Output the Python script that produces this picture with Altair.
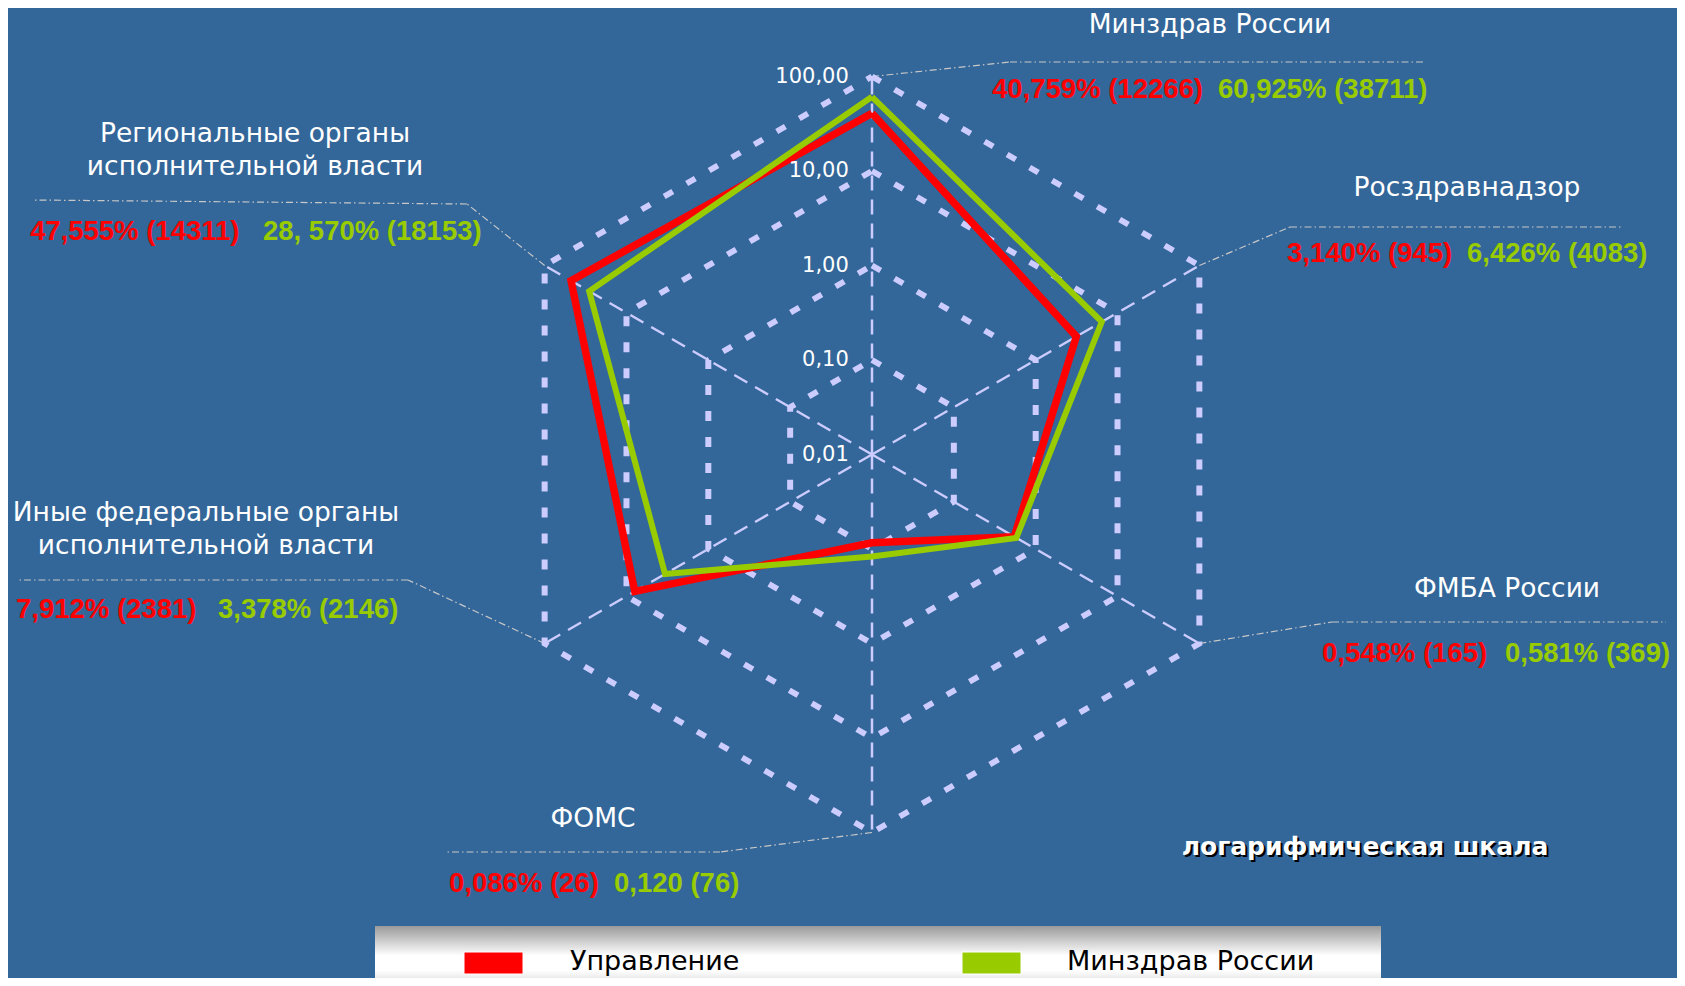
import altair as alt
import pandas as pd
import math

# ---------------- data ----------------
categories = ["Минздрав России", "Росздравнадзор", "ФМБА России", "ФОМС",
              "Иные федеральные органы\nисполнительной власти",
              "Региональные органы\nисполнительной власти"]
series_names = ["Управление", "Минздрав России"]
upr_pct = [40.759, 3.140, 0.548, 0.086, 7.912, 47.555]
mz_pct = [60.925, 6.426, 0.581, 0.120, 3.378, 28.570]
upr_labels = ["40,759% (12266)", "3,140% (945)", "0,548% (165)",
              "0,086% (26)", "7,912% (2381)", "47,555% (14311)"]
mz_labels = ["60,925% (38711)", "6,426% (4083)", "0,581% (369)",
             "0,120 (76)", "3,378% (2146)", "28, 570% (18153)"]
tick_values = [0.01, 0.1, 1, 10, 100]
tick_labels = ["0,01", "0,10", "1,00", "10,00", "100,00"]
scale_note = "логарифмическая шкала"
colors = ["#ff0000", "#99cc00"]

# ---------------- layout (page pixels) ----------------
W, H = 1669, 970
CX, CY, DEC = 872.0, 454.5, 94.5
BG = "#336699"
GRID = "#ccccff"


def ux(px):
    return (px - CX) / DEC


def uy(py):
    return (CY - py) / DEC


xdom = [ux(8), ux(8 + W)]
ydom = [uy(8 + H), uy(8)]
XS = alt.Scale(domain=xdom, nice=False, zero=False)
YS = alt.Scale(domain=ydom, nice=False, zero=False)


def X(f):
    return alt.X(f, type="quantitative", scale=XS, axis=None)


def Y(f):
    return alt.Y(f, type="quantitative", scale=YS, axis=None)


def radar(chart):
    return chart.transform_calculate(
        r="log(datum.value)/LN10 + 2",
        ang="(90 - 60*(datum.idx % 6))*PI/180",
    ).transform_calculate(
        x="datum.r*cos(datum.ang)",
        y="datum.r*sin(datum.ang)",
    )


# grid hexagons
grid_rows = []
for lv in tick_values[1:]:
    for i in range(7):
        grid_rows.append({"level": lv, "idx": i, "value": lv})
grid_df = pd.DataFrame(grid_rows)
grid = radar(alt.Chart(grid_df).mark_line(
    color=GRID, strokeWidth=6, strokeDash=[10, 16], strokeCap="butt"
)).encode(x=X("x"), y=Y("y"), detail="level:N", order="idx:Q")

# spokes
spoke_df = pd.DataFrame({"idx": list(range(6)), "value": [tick_values[-1]] * 6})
spokes = radar(alt.Chart(spoke_df).mark_rule(
    color=GRID, strokeWidth=2.5, strokeDash=[15, 9]
)).transform_calculate(zx="0", zy="0").encode(
    x=X("zx"), y=Y("zy"), x2="x:Q", y2="y:Q")

# tick labels
tick_df = pd.DataFrame({"value": tick_values, "label": tick_labels})
ticks = alt.Chart(tick_df).mark_text(
    align="right", baseline="middle", font="DejaVu Sans", fontSize=21, color="#ffffff"
).transform_calculate(
    r="log(datum.value)/LN10 + 2",
    tx="-0.245",
    ty="datum.r - 0.005",
).encode(x=X("tx"), y=Y("ty"), text="label:N")

# leader lines (vertex -> knee -> end), knee/end in page px
knees = [(1010, 62), (1290, 227), (1332, 622), (720, 852), (408, 580), (467, 204)]
ends = [(1424, 62), (1623, 227), (1666, 622), (446, 852), (19, 580), (32, 200)]
lead_rows = []
for i in range(6):
    a = math.radians(90 - 60 * i)
    vx, vy = 4 * math.cos(a), 4 * math.sin(a)
    kx, ky = ux(knees[i][0]), uy(knees[i][1])
    ex, ey = ux(ends[i][0]), uy(ends[i][1])
    lead_rows.append({"x": vx, "y": vy, "x2": kx, "y2": ky})
    lead_rows.append({"x": kx, "y": ky, "x2": ex, "y2": ey})
lead_df = pd.DataFrame(lead_rows)
leaders = alt.Chart(lead_df).mark_rule(
    color="#c8c8c8", strokeWidth=1.2, strokeDash=[7, 3, 1.5, 3]
).encode(x=X("x"), y=Y("y"), x2="x2:Q", y2="y2:Q")


# series lines
def series_layer(vals, name, color, width):
    df = pd.DataFrame({"idx": list(range(7)),
                       "value": vals + [vals[0]],
                       "series": [name] * 7})
    return radar(alt.Chart(df).mark_line(
        color=color, strokeWidth=width, strokeJoin="miter", strokeMiterLimit=10
    )).encode(x=X("x"), y=Y("y"), order="idx:Q")


line_upr = series_layer(upr_pct, series_names[0], colors[0], 7.5)
line_mz = series_layer(mz_pct, series_names[1], colors[1], 6)

# category labels (y = centre of first line)
cat_pos = [(1210, 25), (1467, 188), (1507, 589), (593, 819), (206, 513), (255, 134)]
cat_df = pd.DataFrame({"label": categories,
                       "x": [ux(p[0]) for p in cat_pos],
                       "y": [uy(p[1]) for p in cat_pos]})
cat_text = alt.Chart(cat_df).mark_text(
    align="center", baseline="middle", font="DejaVu Sans", fontSize=26.5,
    color="#ffffff", lineBreak="\n", lineHeight=33
).encode(x=X("x"), y=Y("y"), text="label:N")

# value labels
val_y = [90, 254, 654, 884, 610, 232]
red_x = [992, 1287, 1322, 449, 16, 30]
green_x = [1218, 1467, 1505, 614, 218, 263]
val_df = pd.DataFrame({
    "label": upr_labels + mz_labels,
    "series": [series_names[0]] * 6 + [series_names[1]] * 6,
    "x": [ux(v) for v in red_x + green_x],
    "y": [uy(v) for v in val_y + val_y],
})
val_text = alt.Chart(val_df).mark_text(
    align="left", baseline="middle", font="Liberation Sans", fontSize=27.5,
    fontWeight="bold"
).encode(
    x=X("x"), y=Y("y"), text="label:N",
    color=alt.Color("series:N", scale=alt.Scale(domain=series_names, range=colors),
                    legend=None),
)

# log scale note (with shadow)
note_df = pd.DataFrame({"label": [scale_note], "x": [ux(1365)], "y": [uy(847)]})
note_shadow = alt.Chart(note_df).mark_text(
    align="center", baseline="middle", font="DejaVu Sans", fontSize=25,
    fontWeight="bold", color="#000000", dx=2, dy=2
).encode(x=X("x"), y=Y("y"), text="label:N")
note = alt.Chart(note_df).mark_text(
    align="center", baseline="middle", font="DejaVu Sans", fontSize=25,
    fontWeight="bold", color="#ffffff"
).encode(x=X("x"), y=Y("y"), text="label:N")

# legend box
grad = alt.LinearGradient(
    gradient="linear",
    stops=[alt.GradientStop(color="#9a9a9a", offset=0),
           alt.GradientStop(color="#ffffff", offset=0.4),
           alt.GradientStop(color="#ffffff", offset=0.6),
           alt.GradientStop(color="#b4b4b4", offset=1)],
    x1=0, x2=0, y1=0, y2=1,
)
leg_df = pd.DataFrame({"k": [0]})
leg_box = alt.Chart(leg_df).mark_rect(fill=grad).encode(
    x=alt.value(375 - 8), x2=alt.value(1381 - 8),
    y=alt.value(926 - 8), y2=alt.value(1000 - 8))

sw_df = pd.DataFrame({"series": series_names,
                      "x": [ux(464), ux(962)], "x2": [ux(523), ux(1021)],
                      "y": [uy(952), uy(952)], "y2": [uy(974), uy(974)],
                      "tx": [ux(570), ux(1067)], "ty": [uy(962), uy(962)]})
swatches = alt.Chart(sw_df).mark_rect(stroke="#ffffff", strokeWidth=1).encode(
    x=X("x"), x2="x2:Q", y=Y("y"), y2="y2:Q",
    fill=alt.Color("series:N", scale=alt.Scale(domain=series_names, range=colors),
                   legend=None))
sw_text = alt.Chart(sw_df).mark_text(
    align="left", baseline="middle", font="DejaVu Sans", fontSize=27, color="#000000"
).encode(x=X("tx"), y=Y("ty"), text="series:N")

chart = alt.layer(
    leaders, grid, spokes, line_upr, line_mz, ticks, cat_text, val_text,
    note_shadow, note, leg_box, swatches, sw_text
).properties(
    width=W, height=H, background=BG, padding=0,
    autosize=alt.AutoSizeParams(type="none"),
).configure_view(stroke=None)

chart.save("out.html", embed_options={"renderer": "svg", "actions": False})
